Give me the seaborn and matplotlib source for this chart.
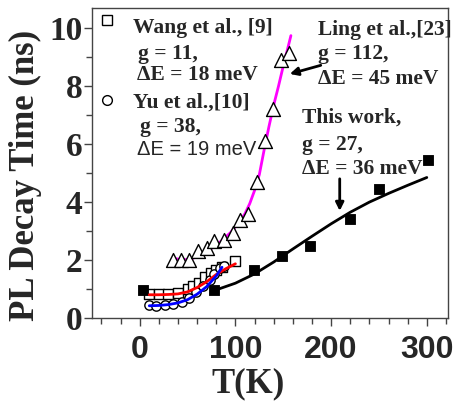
import matplotlib
matplotlib.use("Agg")
import matplotlib.pyplot as plt
import seaborn as sns
import pandas as pd
from matplotlib.ticker import MultipleLocator

# ---- data ----
work_T = [3, 78, 119, 149, 178, 220, 250, 301]
work_tau = [0.95, 0.98, 1.66, 2.15, 2.48, 3.4, 4.45, 5.45]
work_fit_T = [80, 100, 120, 140, 160, 180, 200, 220, 240, 260, 280, 300]
work_fit_tau = [0.97, 1.2, 1.52, 1.93, 2.38, 2.82, 3.25, 3.65, 4.0, 4.3, 4.58, 4.85]

ling_T = [35, 43, 51, 61, 70, 78, 88, 97, 105, 113, 123, 131, 139, 148, 156]
ling_tau = [2.0, 2.0, 2.0, 2.3, 2.4, 2.64, 2.7, 2.95, 3.39, 3.6, 4.68, 6.1, 7.2, 8.9, 9.15]
ling_fit_T = [37, 45, 55, 65, 75, 85, 95, 105, 110, 115, 120, 125, 130, 135, 140, 145, 150, 155, 158]
ling_fit_tau = [2.05, 2.0, 2.05, 2.2, 2.4, 2.65, 2.95, 3.35, 3.6, 3.95, 4.4, 4.95, 5.8, 6.6, 7.35, 8.0, 8.7, 9.35, 9.75]

wang_T = [10, 20, 30, 40, 50, 56, 62, 68, 74, 80, 86, 100]
wang_tau = [0.82, 0.82, 0.82, 0.85, 1.0, 1.1, 1.2, 1.4, 1.55, 1.65, 1.75, 1.98]
wang_fit_T = [10, 20, 30, 40, 50, 60, 70, 80, 90, 100]
wang_fit_tau = [0.8, 0.8, 0.81, 0.83, 0.9, 1.05, 1.25, 1.5, 1.7, 1.87]

yu_T = [10, 17, 26, 35, 44, 52, 59, 66, 73, 78, 84, 88]
yu_tau = [0.45, 0.42, 0.44, 0.48, 0.56, 0.68, 0.91, 1.1, 1.31, 1.52, 1.72, 1.8]
yu_fit_T = [10, 20, 30, 40, 50, 60, 70, 80, 86]
yu_fit_tau = [0.42, 0.43, 0.46, 0.52, 0.63, 0.82, 1.08, 1.45, 1.75]

x_ticks = [0, 100, 200, 300]
y_ticks = [0, 2, 4, 6, 8, 10]

sns.set_style("ticks")
plt.rcParams['font.family'] = ['Liberation Serif', 'DejaVu Serif']

fig = plt.figure(figsize=(4.57, 4.05), dpi=100)
ax = fig.add_axes([0.201, 0.215, 0.779, 0.765])

def df(x, y):
    return pd.DataFrame({"T": x, "tau": y})

# fit lines
sns.lineplot(data=df(ling_fit_T, ling_fit_tau), x="T", y="tau", color="#FF00FF", lw=2, ax=ax, zorder=2)
sns.lineplot(data=df(work_fit_T, work_fit_tau), x="T", y="tau", color="black", lw=2, ax=ax, zorder=2)

# markers
sns.scatterplot(data=df(wang_T, wang_tau), x="T", y="tau", marker="s", s=45,
                facecolor="white", edgecolor="black", linewidth=1, ax=ax, zorder=3)
sns.scatterplot(data=df(yu_T, yu_tau), x="T", y="tau", marker="o", s=45,
                facecolor="white", edgecolor="black", linewidth=1, ax=ax, zorder=3)
sns.lineplot(data=df(wang_fit_T, wang_fit_tau), x="T", y="tau", color="red", lw=2, ax=ax, zorder=4)
sns.lineplot(data=df(yu_fit_T, yu_fit_tau), x="T", y="tau", color="blue", lw=2, ax=ax, zorder=4)
sns.scatterplot(data=df(ling_T, ling_tau), x="T", y="tau", marker="^", s=100,
                facecolor="white", edgecolor="black", linewidth=1, ax=ax, zorder=3)
sns.scatterplot(data=df(work_T, work_tau), x="T", y="tau", marker="s", s=60,
                color="black", edgecolor="black", ax=ax, zorder=3)

ax.set_xlim(-50, 322)
ax.set_ylim(0, 10.7)
ax.set_xticks(x_ticks)
ax.set_yticks(y_ticks)
ax.xaxis.set_minor_locator(MultipleLocator(20))
ax.yaxis.set_minor_locator(MultipleLocator(1))
ax.tick_params(which="both", direction="out", width=1, color="#444444")
ax.tick_params(which="major", length=6)
ax.tick_params(which="minor", length=4)
ax.tick_params(axis="x", pad=6)
ax.tick_params(axis="y", pad=1)
for sp in ax.spines.values():
    sp.set_visible(True)
    sp.set_linewidth(1)
    sp.set_color("#444444")

for lab in ax.get_xticklabels():
    lab.set_family(["Liberation Sans", "DejaVu Sans"])
    lab.set_fontweight("bold")
    lab.set_fontsize(23)
for lab in ax.get_yticklabels():
    lab.set_fontweight("bold")
    lab.set_fontsize(24)

ax.set_xlabel("T(K)", fontsize=25, fontweight="bold")
ax.xaxis.set_label_coords(0.44, -0.16)
ax.set_ylabel("PL Decay Time (ns)", fontsize=25, fontweight="bold")
ax.yaxis.set_label_coords(-0.14, 0.46)

# legend-like markers and annotations
ax.plot([-34.5], [10.28], marker="s", ms=7, mfc="white", mec="black", mew=1, clip_on=False)
ax.plot([-34.5], [7.54], marker="o", ms=7, mfc="white", mec="black", mew=1, clip_on=False)

tkw = dict(fontsize=15.5, fontweight="bold", va="center", ha="left")
ax.text(-7, 10.03, "Wang et al., [9]", **tkw)
ax.text(-2, 9.1, "g = 11,", **tkw)
ax.text(-3, 8.38, "ΔE = 18 meV", **tkw)
ax.text(-7, 7.44, "Yu et al.,[10]", **tkw)
ax.text(0, 6.58, "g = 38,", **tkw)
ax.text(-3, 5.82, "ΔE = 19 meV", fontsize=14.5, va="center", ha="left",
        family=["Liberation Sans", "DejaVu Sans"])
ax.text(186, 9.96, "Ling et al.,[23]", **tkw)
ax.text(186, 9.1, "g = 112,", **tkw)
ax.text(186, 8.24, "ΔE = 45 meV", **tkw)
ax.text(170, 6.92, "This work,", **tkw)
ax.text(170, 5.96, "g = 27,", **tkw)
ax.text(170, 5.16, "ΔE = 36 meV", **tkw)

ax.annotate("", xy=(154, 8.4), xytext=(192, 8.75),
            arrowprops=dict(arrowstyle="-|>", color="black", lw=2, mutation_scale=12))
ax.annotate("", xy=(209, 3.6), xytext=(209, 4.9),
            arrowprops=dict(arrowstyle="-|>", color="black", lw=2, mutation_scale=12))

fig.savefig("out.png", dpi=100)
